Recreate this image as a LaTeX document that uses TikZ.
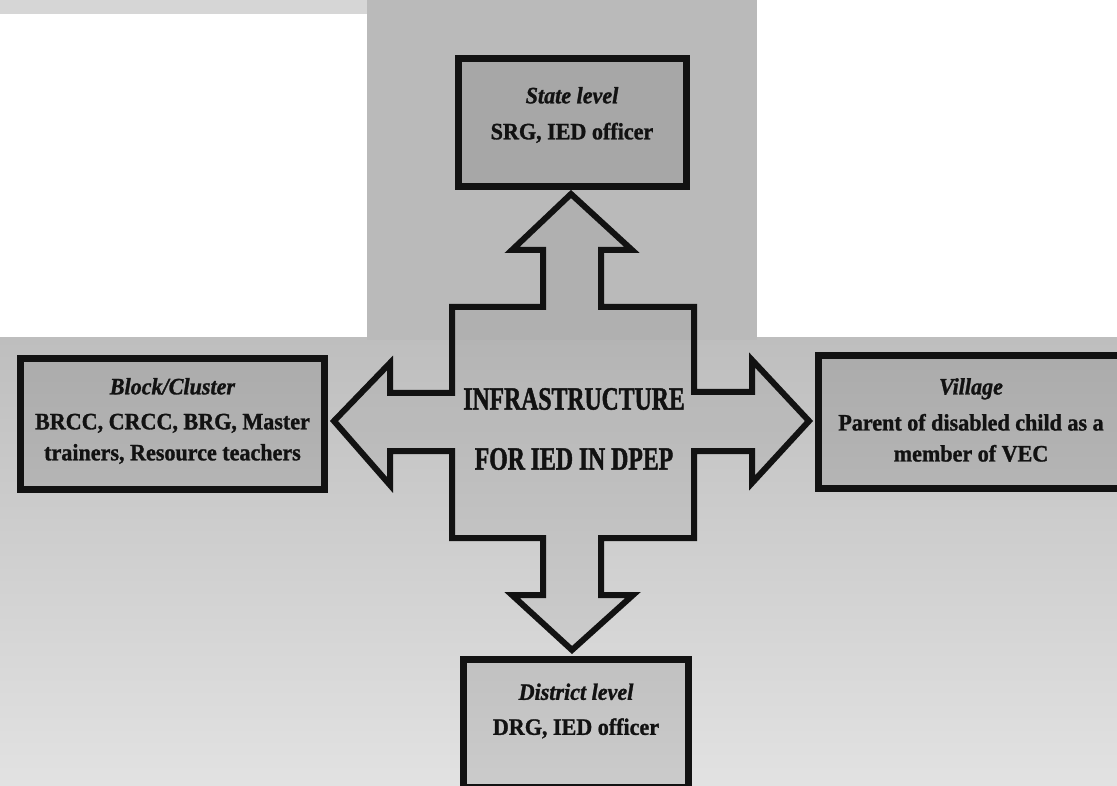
\documentclass[tikz,border=0pt]{standalone}
\usepackage{fontspec}
\newfontfamily\boxfont[FakeStretch=0.94, FakeBold=1.2]{Liberation Serif}
\newfontfamily\ctrfont[FakeStretch=0.73, FakeBold=1.4]{Liberation Serif}
\definecolor{colgray}{HTML}{BABABA}
\definecolor{stripgray}{HTML}{D6D6D6}
\definecolor{lowtop}{HTML}{BEBEBE}
\definecolor{lowbot}{HTML}{E2E2E2}
\definecolor{ink}{HTML}{121212}
\tikzset{
  levelbox/.style={draw=ink, line width=7pt, fill=black, fill opacity=0.1, inner sep=0pt},
  crossline/.style={draw=ink, line width=6pt, fill=black, fill opacity=0.05, line join=miter},
  lbl/.style={align=center, text=ink, inner sep=0pt, font=\boxfont\bfseries\fontsize{23.5}{31}\selectfont},
  ctrlbl/.style={align=center, text=ink, inner sep=0pt, font=\ctrfont\bfseries\fontsize{32.5}{60}\selectfont}
}
\begin{document}
\begin{tikzpicture}[x=1pt,y=-1pt]
\useasboundingbox (0,0) rectangle (1117,786);
\clip (0,0) rectangle (1117,786);
% background of the scan
\fill[white] (0,0) rectangle (1117,786);
\shade[top color=lowtop, bottom color=lowbot] (0,338) rectangle (1117,786);
\fill[colgray] (367,0) rectangle (757,340);
\fill[stripgray] (0,0) rectangle (367,14);
% four-way arrow
\draw[crossline] (571,194) -- (632,250) -- (601,250) -- (601,307) -- (694,307) -- (694,392)
  -- (752,392) -- (752,360) -- (809,421) -- (752,483) -- (752,451) -- (694,451)
  -- (694,538) -- (601,538) -- (601,595) -- (633,595) -- (572,650) -- (512,595)
  -- (543,595) -- (543,538) -- (452,538) -- (452,451) -- (390,451) -- (390,485)
  -- (334,421) -- (390,363) -- (390,393) -- (452,393) -- (452,307) -- (543,307)
  -- (543,250) -- (512,250) -- cycle;
\node[ctrlbl] (centre) at (574,429) {INFRASTRUCTURE\\FOR IED IN DPEP};
% level boxes
\node[levelbox, minimum width=228, minimum height=128] (state) at (572.5,122.5) {};
\node[levelbox, minimum width=304, minimum height=131] (block) at (172.5,424) {};
\node[levelbox, minimum width=305, minimum height=133] (village) at (971,422) {};
\node[levelbox, minimum width=225, minimum height=128] (district) at (576,723.5) {};
% labels
\node[lbl] (statetext) at (572,115) {\textit{State level}\\[5pt]SRG, IED officer};
\node[lbl] (blocktext) at (172.5,421) {\textit{Block/Cluster}\\[4pt]BRCC, CRCC, BRG, Master\\trainers, Resource teachers};
\node[lbl] (villagetext) at (971,420) {\textit{Village}\\[5pt]Parent of disabled child as a\\member of VEC};
\node[lbl] (districttext) at (576,711) {\textit{District level}\\[4pt]DRG, IED officer};
\end{tikzpicture}
\end{document}
